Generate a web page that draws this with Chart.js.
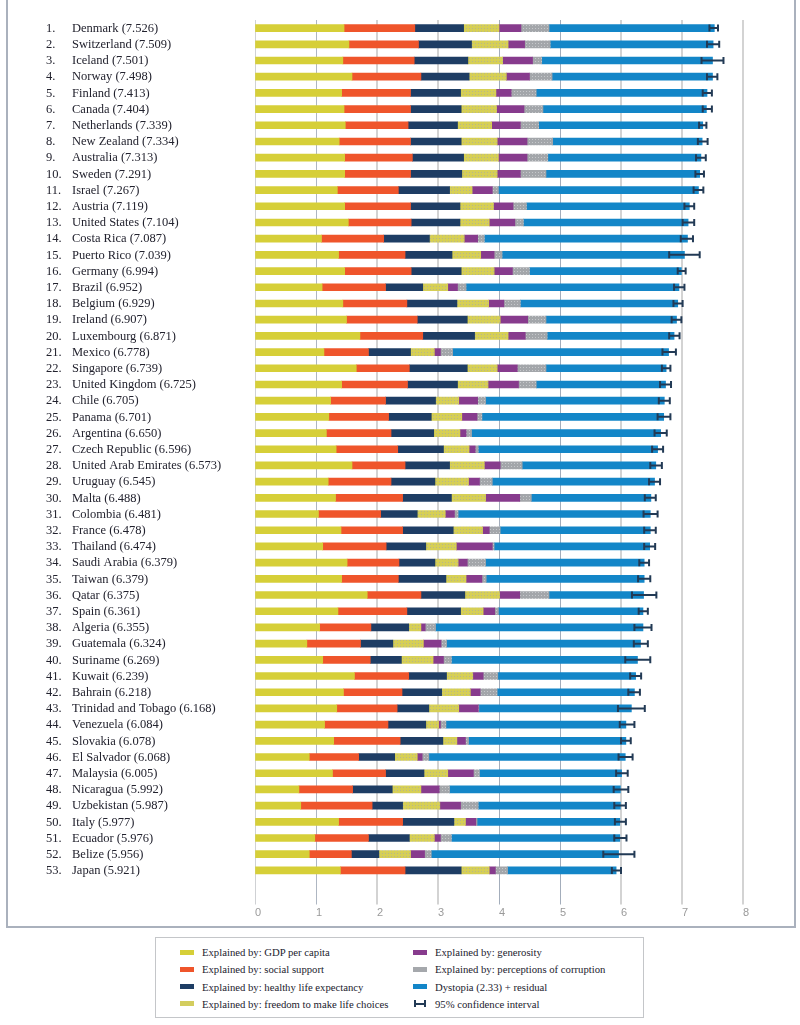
<!DOCTYPE html>
<html lang="en">
<head>
<meta charset="UTF-8" />
<title>Ranking of happiness 2013-2015 (part 1)</title>
<script src="https://cdn.jsdelivr.net/npm/chart.js@4/dist/chart.umd.min.js"></script>
<style>
  *, *::before, *::after { box-sizing: border-box; margin: 0; padding: 0; }
  html, body { width: 800px; height: 1025px; background: #fff; overflow: hidden; }
  body { position: relative; font-family: 'Liberation Serif', serif; color: #2a2a35; }
  .frame {
    position: absolute; left: 6px; top: -4px; width: 790px; height: 932px;
    border: 2px solid #aab1bd; border-top: none;
  }
  .chart-wrap { position: absolute; left: 0; top: 0; width: 800px; height: 925px; }
  .legend {
    position: absolute; left: 155px; top: 937px; width: 489px; height: 81px;
    border: 1px solid #c4c6c9; background: #fff;
  }
  .item {
    position: absolute; display: flex; align-items: center;
    font-size: 10.7px; line-height: 12px; white-space: nowrap; color: #22222e;
  }
  .sw { width: 14px; height: 5px; margin-right: 8px; flex: none; }
  .sw.ci {
    height: 7px; width: 12px; margin-left: 1px; margin-right: 9px;
    border-left: 2px solid #223a55; border-right: 2px solid #223a55;
    background: linear-gradient(#223a55, #223a55) center / 100% 2px no-repeat;
  }
</style>
</head>
<body>
  <div class="frame"></div>
  <div class="chart-wrap"><canvas id="chart" width="800" height="925"></canvas></div>
  <div class="legend" id="legend"></div>

<script>
const countries = ['Denmark', 'Switzerland', 'Iceland', 'Norway', 'Finland', 'Canada', 'Netherlands',
  'New Zealand', 'Australia', 'Sweden', 'Israel', 'Austria', 'United States', 'Costa Rica', 'Puerto Rico',
  'Germany', 'Brazil', 'Belgium', 'Ireland', 'Luxembourg', 'Mexico', 'Singapore', 'United Kingdom', 'Chile',
  'Panama', 'Argentina', 'Czech Republic', 'United Arab Emirates', 'Uruguay', 'Malta', 'Colombia', 'France',
  'Thailand', 'Saudi Arabia', 'Taiwan', 'Qatar', 'Spain', 'Algeria', 'Guatemala', 'Suriname', 'Kuwait',
  'Bahrain', 'Trinidad and Tobago', 'Venezuela', 'Slovakia', 'El Salvador', 'Malaysia', 'Nicaragua',
  'Uzbekistan', 'Italy', 'Ecuador', 'Belize', 'Japan'];

const scores = [7.526, 7.509, 7.501, 7.498, 7.413, 7.404, 7.339, 7.334, 7.313, 7.291,
  7.267, 7.119, 7.104, 7.087, 7.039, 6.994, 6.952, 6.929, 6.907, 6.871,
  6.778, 6.739, 6.725, 6.705, 6.701, 6.650, 6.596, 6.573, 6.545, 6.488,
  6.481, 6.478, 6.474, 6.379, 6.379, 6.375, 6.361, 6.355, 6.324, 6.269,
  6.239, 6.218, 6.168, 6.084, 6.078, 6.068, 6.005, 5.992, 5.987, 5.977,
  5.976, 5.956, 5.921];

const gdp = [1.46, 1.54, 1.44, 1.59, 1.42, 1.46, 1.48, 1.38, 1.47, 1.47,
  1.35, 1.47, 1.53, 1.09, 1.37, 1.47, 1.10, 1.44, 1.50, 1.72,
  1.13, 1.66, 1.42, 1.24, 1.21, 1.17, 1.33, 1.59, 1.20, 1.32,
  1.04, 1.41, 1.11, 1.51, 1.42, 1.84, 1.36, 1.06, 0.85, 1.11,
  1.63, 1.45, 1.34, 1.14, 1.29, 0.89, 1.27, 0.72, 0.75, 1.37,
  0.98, 0.89, 1.40];
const social = [1.16, 1.14, 1.17, 1.13, 1.13, 1.09, 1.03, 1.17, 1.11, 1.08,
  1.00, 1.08, 1.03, 1.02, 1.09, 1.09, 1.04, 1.05, 1.16, 1.03,
  0.73, 0.87, 1.08, 0.90, 0.98, 1.06, 1.01, 0.87, 1.03, 1.10,
  1.02, 1.01, 1.04, 0.85, 0.93, 0.88, 1.13, 0.84, 0.88, 0.78,
  0.89, 0.96, 0.99, 1.04, 1.09, 0.81, 0.87, 0.88, 1.17, 1.05,
  0.88, 0.69, 1.06];
const health = [0.80, 0.87, 0.88, 0.79, 0.82, 0.83, 0.81, 0.83, 0.84, 0.84,
  0.84, 0.81, 0.80, 0.75, 0.77, 0.82, 0.61, 0.82, 0.82, 0.85,
  0.69, 0.95, 0.82, 0.82, 0.70, 0.70, 0.75, 0.73, 0.72, 0.80,
  0.60, 0.83, 0.65, 0.59, 0.78, 0.72, 0.88, 0.62, 0.53, 0.51,
  0.62, 0.65, 0.52, 0.62, 0.70, 0.59, 0.63, 0.65, 0.50, 0.84,
  0.67, 0.45, 0.92];
const freedom = [0.58, 0.60, 0.57, 0.61, 0.58, 0.58, 0.56, 0.59, 0.57, 0.58,
  0.37, 0.55, 0.48, 0.57, 0.47, 0.54, 0.41, 0.52, 0.54, 0.55,
  0.39, 0.49, 0.50, 0.38, 0.50, 0.43, 0.42, 0.57, 0.55, 0.56,
  0.46, 0.48, 0.50, 0.38, 0.33, 0.57, 0.37, 0.20, 0.50, 0.52,
  0.43, 0.47, 0.49, 0.21, 0.23, 0.37, 0.39, 0.47, 0.61, 0.19,
  0.41, 0.52, 0.46];
const generosity = [0.36, 0.27, 0.49, 0.38, 0.25, 0.45, 0.47, 0.49, 0.47, 0.38,
  0.33, 0.32, 0.42, 0.22, 0.22, 0.30, 0.16, 0.25, 0.45, 0.28,
  0.10, 0.33, 0.50, 0.31, 0.25, 0.10, 0.10, 0.26, 0.18, 0.56,
  0.15, 0.11, 0.59, 0.15, 0.26, 0.33, 0.19, 0.07, 0.29, 0.17,
  0.17, 0.16, 0.32, 0.03, 0.14, 0.08, 0.42, 0.30, 0.34, 0.17,
  0.10, 0.23, 0.10];
const corruption = [0.46, 0.42, 0.15, 0.37, 0.41, 0.31, 0.30, 0.42, 0.34, 0.42,
  0.10, 0.22, 0.14, 0.11, 0.13, 0.28, 0.14, 0.27, 0.30, 0.36,
  0.20, 0.47, 0.29, 0.13, 0.08, 0.09, 0.05, 0.36, 0.21, 0.19,
  0.06, 0.18, 0.03, 0.30, 0.07, 0.48, 0.06, 0.17, 0.09, 0.13,
  0.24, 0.28, 0.01, 0.09, 0.05, 0.11, 0.10, 0.17, 0.29, 0.02,
  0.18, 0.11, 0.20];
const dystopia = [2.71, 2.67, 2.80, 2.63, 2.80, 2.68, 2.69, 2.45, 2.51, 2.52,
  3.28, 2.67, 2.70, 3.33, 2.99, 2.49, 3.49, 2.58, 2.14, 2.08,
  3.54, 1.97, 2.12, 2.93, 2.98, 3.10, 2.94, 2.19, 2.66, 1.96,
  3.15, 2.46, 2.55, 2.60, 2.59, 1.55, 2.37, 3.40, 3.18, 3.05,
  2.26, 2.25, 2.50, 2.95, 2.58, 3.22, 2.33, 2.80, 2.33, 2.34,
  2.76, 3.07, 1.78];

const ciLow = [7.45, 7.41, 7.32, 7.41, 7.34, 7.34, 7.28, 7.26, 7.23, 7.22,
  7.19, 7.04, 7.01, 6.98, 6.79, 6.93, 6.87, 6.86, 6.83, 6.79,
  6.68, 6.67, 6.64, 6.62, 6.60, 6.55, 6.51, 6.48, 6.46, 6.39,
  6.37, 6.38, 6.38, 6.30, 6.28, 6.18, 6.29, 6.22, 6.21, 6.07,
  6.15, 6.12, 5.95, 5.98, 6.00, 5.96, 5.92, 5.88, 5.89, 5.90,
  5.89, 5.71, 5.85];
const ciHigh = [7.59, 7.61, 7.68, 7.58, 7.49, 7.49, 7.40, 7.42, 7.39, 7.36,
  7.35, 7.20, 7.20, 7.18, 7.29, 7.06, 7.04, 7.01, 6.99, 6.96,
  6.90, 6.81, 6.82, 6.80, 6.81, 6.75, 6.69, 6.67, 6.64, 6.57,
  6.60, 6.57, 6.56, 6.46, 6.48, 6.58, 6.44, 6.50, 6.44, 6.48,
  6.33, 6.31, 6.39, 6.22, 6.16, 6.19, 6.11, 6.12, 6.08, 6.08,
  6.09, 6.22, 6.00];

const xTicks = [0, 1, 2, 3, 4, 5, 6, 7, 8];

const seriesNames = [
  'Explained by: GDP per capita',
  'Explained by: social support',
  'Explained by: healthy life expectancy',
  'Explained by: freedom to make life choices',
  'Explained by: generosity',
  'Explained by: perceptions of corruption',
  'Dystopia (2.33) + residual',
];
const seriesColors = ['#d6cf38', '#ef552b', '#1e3d64', '#d3cd5e', '#873b8d', '#a5a8ac', '#1386c8'];

// gridlines in the print version are not all the same
const gridColors = ['#cfd1d4', '#aeb6c2', '#d3d3d3', '#d3d3d3', '#a3adbb', '#a3adbb', '#d3d3d3', '#d3d3d3', '#d3d3d3'];
const gridWidths = [1, 1, 2, 2, 1, 1, 2, 2, 2];

// small dotted textures, like the print version
function dots(base, dot) {
  const c = document.createElement('canvas');
  c.width = 3; c.height = 3;
  const g = c.getContext('2d');
  g.fillStyle = base; g.fillRect(0, 0, 3, 3);
  g.fillStyle = dot; g.fillRect(1, 1, 1, 1);
  return g.createPattern(c, 'repeat');
}

const ctx = document.getElementById('chart').getContext('2d');
const fills = seriesColors.slice();
fills[3] = dots('#d6cf55', '#b8b78c');
fills[5] = dots('#a3a6aa', '#c6c8cb');

const values = [gdp, social, health, freedom, generosity, corruption, dystopia];

const rowLabels = {
  id: 'rowLabels',
  afterDraw(chart) {
    const { ctx, scales: { y } } = chart;
    ctx.save();
    ctx.fillStyle = '#22222e';
    ctx.font = '12.5px "Liberation Serif"';
    ctx.textBaseline = 'middle';
    ctx.textAlign = 'left';
    countries.forEach((name, i) => {
      const py = y.getPixelForValue(i) + 0.5;
      ctx.fillText((i + 1) + '.', 46, py);
      ctx.fillText(name + ' (' + scores[i].toFixed(3) + ')', 72, py);
    });
    ctx.restore();
  },
};

const errorBars = {
  id: 'errorBars',
  afterDatasetsDraw(chart) {
    const { ctx, scales: { x, y } } = chart;
    ctx.save();
    ctx.strokeStyle = '#223a55';
    ctx.lineWidth = 2;
    ciLow.forEach((lo, i) => {
      const py = y.getPixelForValue(i);
      const x0 = x.getPixelForValue(lo);
      const x1 = x.getPixelForValue(ciHigh[i]);
      ctx.beginPath();
      ctx.moveTo(x0, py); ctx.lineTo(x1, py);
      ctx.moveTo(x0, py - 3.5); ctx.lineTo(x0, py + 3.5);
      ctx.moveTo(x1, py - 3.5); ctx.lineTo(x1, py + 3.5);
      ctx.stroke();
    });
    ctx.restore();
  },
};

new Chart(ctx, {
  type: 'bar',
  data: {
    labels: countries,
    datasets: values.map((v, k) => ({
      label: seriesNames[k],
      data: v,
      backgroundColor: fills[k],
      borderWidth: 0,
      barThickness: 7,
    })),
  },
  options: {
    indexAxis: 'y',
    responsive: false,
    animation: false,
    layout: { padding: { left: 255, right: 57, top: 20, bottom: 0 } },
    plugins: {
      legend: { display: false },
      tooltip: { enabled: false },
    },
    scales: {
      x: {
        stacked: true,
        min: 0,
        max: 8,
        afterBuildTicks: (s) => { s.ticks = xTicks.map((v) => ({ value: v })); },
        afterFit: (s) => { s.height = 46.5; },
        ticks: {
          align: 'start',
          padding: 2,
          color: '#9a9a9a',
          font: { family: 'Liberation Sans', size: 11 },
        },
        grid: {
          color: (c) => gridColors[c.index] || '#d3d3d3',
          tickColor: (c) => gridColors[c.index] || '#d3d3d3',
          lineWidth: (c) => gridWidths[c.index] || 1,
          tickLength: 26,
        },
        border: { display: false },
      },
      y: { stacked: true, display: false },
    },
  },
  plugins: [rowLabels, errorBars],
});

// legend, two columns in a box
const legend = document.getElementById('legend');
const legendItems = seriesNames.map((n, k) => ({ name: n, color: seriesColors[k] }));
legendItems.push({ name: '95% confidence interval', ci: true });
legendItems.forEach((it, k) => {
  const col = k < 4 ? 0 : 1;
  const row = k % 4;
  const el = document.createElement('div');
  el.className = 'item';
  el.style.left = (col ? 257 : 24) + 'px';
  el.style.top = (8 + row * 17.3) + 'px';
  const sw = document.createElement('span');
  sw.className = it.ci ? 'sw ci' : 'sw';
  if (!it.ci) sw.style.background = it.color;
  const tx = document.createElement('span');
  tx.textContent = it.name;
  el.appendChild(sw);
  el.appendChild(tx);
  legend.appendChild(el);
});
</script>
</body>
</html>
